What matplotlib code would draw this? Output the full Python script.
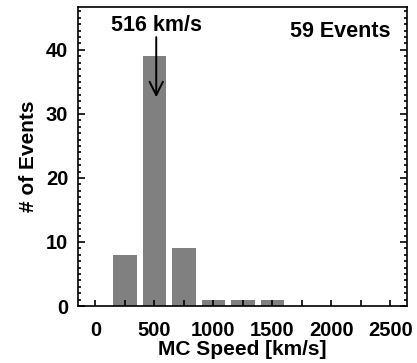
import matplotlib
matplotlib.use("Agg")
import matplotlib.pyplot as plt
from matplotlib.ticker import MultipleLocator

# histogram of MC speeds, 250 km/s bins
bin_centers = [250, 500, 750, 1000, 1250, 1500]
counts = [8, 39, 9, 1, 1, 1]
mean_speed = 516
n_events = 59

plt.rcParams['font.family'] = ['Liberation Sans', 'DejaVu Sans']
plt.rcParams['font.weight'] = 'bold'

fig = plt.figure(figsize=(4.17, 3.63), dpi=100)
ax = fig.add_axes([78 / 417, 57 / 363, 329 / 417, 299 / 363])

ax.bar(bin_centers, counts, width=200, color='#808080', edgecolor='none')

ax.set_xlim(-147, 2641)
ax.set_ylim(0, 46.7)

ax.xaxis.set_major_locator(MultipleLocator(500))
ax.xaxis.set_minor_locator(MultipleLocator(250))
ax.yaxis.set_major_locator(MultipleLocator(10))
ax.yaxis.set_minor_locator(MultipleLocator(1))
ax.tick_params(axis='both', which='both', direction='in', top=False, right=True,
               labelsize=14.5, width=1.2)
ax.tick_params(axis='x', which='both', length=4, pad=11)
ax.tick_params(axis='y', which='major', length=5, pad=7)
ax.tick_params(axis='y', which='minor', length=2)
for lab in ax.get_xticklabels() + ax.get_yticklabels():
    lab.set_fontweight('bold')
for s in ax.spines.values():
    s.set_linewidth(1.2)

ax.set_xlabel('MC Speed [km/s]', fontsize=15, fontweight='bold', labelpad=0)
ax.set_ylabel('# of Events', fontsize=15, fontweight='bold', labelpad=6)

# mean speed marker
ax.annotate('', xy=(mean_speed, 32.6), xytext=(mean_speed, 42.0),
            arrowprops=dict(arrowstyle='->', color='black', lw=1.4,
                            mutation_scale=24, shrinkA=0, shrinkB=0))
ax.text(mean_speed, 43.0, '%d km/s' % mean_speed, ha='center', va='baseline',
        fontsize=15.5, fontweight='bold')
ax.text(2500, 42.0, '%d Events' % n_events, ha='right', va='baseline',
        fontsize=15.5, fontweight='bold')

fig.savefig('out.png', dpi=100)
